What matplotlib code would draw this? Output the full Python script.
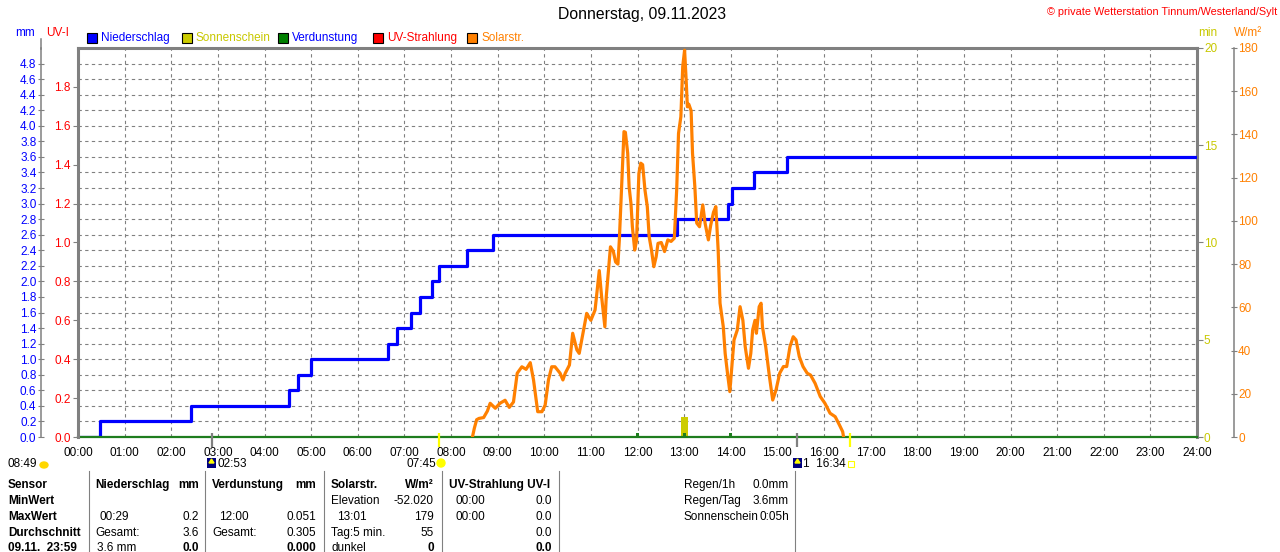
import matplotlib
matplotlib.use("Agg")
import matplotlib.pyplot as plt
from matplotlib.patches import Rectangle, Polygon, Ellipse
from matplotlib.lines import Line2D
import numpy as np

plt.rcParams['font.family'] = ['Liberation Sans', 'DejaVu Sans']

W, H = 1280, 552

# Niederschlag, cumulative mm (step changes, hours)
rain_t = [0.0, 0.47, 2.42, 4.53, 4.72, 5.0, 6.65, 6.84, 7.14, 7.34, 7.59, 7.74,
          8.34, 8.9, 12.85, 13.95, 14.02, 14.5, 15.2, 24.0]
rain_mm = [0.0, 0.2, 0.4, 0.6, 0.8, 1.0, 1.2, 1.4, 1.6, 1.8, 2.0, 2.2,
           2.4, 2.6, 2.8, 3.0, 3.2, 3.4, 3.6, 3.6]

# Verdunstung per hour, mm
evap_h = [1, 2, 3, 4, 5, 11, 12, 13, 14]
evap_mm = [0.01, 0.01, 0.01, 0.01, 0.01, 0.01, 0.051, 0.045, 0.045]

# Sonnenschein, min
sun_t = [13.0]
sun_min = [1.05]

# Solarstrahlung W/m2
solar_t = [8.46, 8.5, 8.55, 8.6, 8.7, 8.78, 8.84, 8.95, 9.05, 9.16, 9.25, 9.34, 9.42,
           9.52, 9.61, 9.7, 9.77, 9.86, 9.95, 10.02, 10.09, 10.16, 10.23, 10.34, 10.4,
           10.45, 10.54, 10.61, 10.7, 10.75, 10.83, 10.91, 11.0, 11.09, 11.18, 11.23,
           11.3, 11.33, 11.42, 11.48, 11.53, 11.58, 11.61, 11.66, 11.71, 11.74, 11.79,
           11.82, 11.86, 11.89, 11.94, 11.98, 12.03, 12.07, 12.11, 12.16, 12.21, 12.25,
           12.3, 12.35, 12.4, 12.44, 12.51, 12.58, 12.65, 12.72, 12.79, 12.84, 12.88,
           12.93, 12.97, 13.01, 13.04, 13.07, 13.1, 13.15, 13.18, 13.23, 13.27, 13.33,
           13.4, 13.45, 13.52, 13.57, 13.63, 13.68, 13.73, 13.77, 13.84, 13.88, 13.93,
           13.98, 14.04, 14.07, 14.14, 14.2, 14.26, 14.31, 14.38, 14.43, 14.47, 14.52,
           14.55, 14.61, 14.65, 14.68, 14.75, 14.83, 14.9, 14.97, 15.05, 15.13, 15.2,
           15.27, 15.34, 15.4, 15.47, 15.55, 15.64, 15.71, 15.81, 15.92, 16.02, 16.13,
           16.24, 16.33, 16.4, 16.42]
solar_w = [0, 4, 8, 8.6, 9, 12, 15.6, 13.3, 15.6, 17, 13.7, 16.2, 29.5,
           32.5, 31.3, 34.4, 26.4, 11.7, 11.7, 14.8, 26.4, 32.5, 32.5, 29.5, 26.4,
           29.5, 33.3, 48, 40.3, 38.7, 48, 57.2, 54, 58.8, 77, 65,
           51, 65, 88, 86, 81, 80, 91, 115.8, 141.3, 141, 131.3,
           115.8, 108, 97.3, 86.5, 91, 122, 126.7, 126, 114.3, 106.6, 92.7,
           86.5, 78.8, 83.4, 89.6, 90, 85.8, 91.2, 90.5, 92, 114.3, 140.5,
           148.2, 171.4, 179, 166.7, 152.8, 154, 151, 131.3, 115.8, 99, 97.3,
           107.4, 98.9, 91.2, 98, 104, 106.6, 86.5, 61.9, 51, 38.7, 29.5,
           21, 37.2, 44.9, 49.5, 60.3, 54, 41.8, 31.8, 38.7, 49.5, 54,
           48, 60.3, 61.9, 51, 41.8, 27.9, 17.1, 21.7, 29.5, 32.6, 32.6,
           41.8, 46.4, 44.9, 37.2, 32.6, 29.5, 28.7, 24.8, 18.7, 15.6, 11,
           9.4, 5.6, 2.5, 0]

# sunrise / sunset and moon times (hours)
sunrise, sunset = 7.75, 16.567
moon_events = [2.883, 15.43]

hour_labels = [f"{h:02d}:00" for h in range(25)]

GRAY = '#808080'
BLUE = '#0000ff'
RED = '#ff0000'
YEL = '#c8c800'
ORANGE = '#ff8000'
GREEN = '#1e7d1e'
PT = 72 / 100  # points per pixel


def fx(x):
    return x / W


def fy(y):
    return 1 - y / H


fig = plt.figure(figsize=(W / 100, H / 100), dpi=100)
ax = fig.add_axes([fx(78), fy(437), (1197 - 78) / W, (437 - 48) / H])
mn = ax.twinx()
uv = ax.twinx()
wm = ax.twinx()
mn.set_zorder(1)
ax.set_zorder(2)
uv.set_zorder(3)
wm.set_zorder(4)
for a in (ax, mn, uv, wm):
    a.patch.set_visible(False)
    for s in a.spines.values():
        s.set_visible(False)

fs = 8.5

# main mm axis
ax.set_xlim(0, 24)
ax.set_ylim(0, 5.0)
ax.set_xticks(range(25))
ax.set_xticklabels(hour_labels)
ax.tick_params(axis='x', length=0, pad=7, labelsize=fs, colors='black')
ax.set_yticks(np.round(np.arange(0, 4.81, 0.2), 1))
ax.set_yticklabels([f"{v:.1f}" for v in np.arange(0, 4.81, 0.2)])
ax.spines['left'].set_visible(True)
ax.spines['left'].set_position(('outward', 37 * PT))
ax.spines['left'].set_color(GRAY)
ax.spines['left'].set_linewidth(1.1)
ax.tick_params(axis='y', direction='inout', length=4.5, width=0.8, color=GRAY,
               labelcolor=BLUE, labelsize=fs, pad=1)
for side in ('top', 'right'):
    ax.spines[side].set_visible(True)
    ax.spines[side].set_color(GRAY)
    ax.spines[side].set_linewidth(2.2)
# mm spine reaches a little above the plot frame
fig.add_artist(Line2D([fx(41), fx(41)], [fy(39), fy(49)], color=GRAY, lw=1.1,
                      transform=fig.transFigure))

# UV-I axis (left border)
uv.set_ylim(0, 2.0)
uv.yaxis.tick_left()
uv.spines['left'].set_visible(True)
uv.spines['left'].set_color(GRAY)
uv.spines['left'].set_linewidth(2.2)
uv.set_yticks(np.round(np.arange(0, 1.81, 0.2), 1))
uv.set_yticklabels([f"{v:.1f}" for v in np.arange(0, 1.81, 0.2)])
uv.tick_params(axis='y', direction='out', length=3.6, width=0.8, color=GRAY,
               labelcolor=RED, labelsize=fs, pad=1.5)

# min axis, lowest layer, carries the dashed grid (0.8 min = 0.2 mm)
mn.set_ylim(0, 20)
mn.set_yticks([0, 5, 10, 15, 20])
mn.set_yticks(np.arange(0.8, 19.3, 0.8), minor=True)
mn.tick_params(axis='y', which='major', direction='out', length=4, width=0.8, color=GRAY,
               labelcolor=YEL, labelsize=fs, pad=1)
mn.tick_params(axis='y', which='minor', length=0)
mn.xaxis.set_visible(True)
mn.tick_params(axis='x', length=0, labelbottom=False)
mn.grid(True, which='minor', axis='y', color=GRAY, ls=(0, (3, 3)), lw=0.8)
mn.grid(True, which='major', axis='x', color=GRAY, ls=(0, (3, 3)), lw=0.8)

# W/m2 axis
wm.set_ylim(0, 180)
wm.set_yticks(range(0, 181, 20))
wm.spines['right'].set_visible(True)
wm.spines['right'].set_position(('outward', 37 * PT))
wm.spines['right'].set_color(GRAY)
wm.spines['right'].set_linewidth(1.1)
wm.tick_params(axis='y', direction='inout', length=5, width=0.8, color=GRAY,
               labelcolor=ORANGE, labelsize=fs, pad=0.5)

# data
mn.bar(sun_t, sun_min, width=0.15, color='#cccc00', zorder=3)
ax.step(rain_t, rain_mm, where='post', color=BLUE, lw=2.3, zorder=3)
ax.plot([0, 24], [0, 0], color=GREEN, lw=1.6, clip_on=False, zorder=4)
ax.bar(evap_h, evap_mm, width=0.06, color=GREEN, zorder=4)
wm.plot(solar_t, solar_w, color=ORANGE, lw=2.3, solid_joinstyle='round', zorder=5)

# sun / moon markers on the time axis
xt = ax.get_xaxis_transform()
y_lo, y_hi = -(447 - 437) / 389, (437 - 433) / 389
ax.vlines([sunrise, sunset], y_lo, y_hi, transform=xt, colors='#ffff00', lw=1.6,
          clip_on=False, zorder=6)
ax.vlines(moon_events, y_lo, y_hi, transform=xt, colors=GRAY, lw=1.6,
          clip_on=False, zorder=6)

# headings
fig.text(fx(642), fy(15), "Donnerstag, 09.11.2023", ha='center', va='center',
         fontsize=11.3, color='black')
fig.text(fx(1277), fy(12), "© private Wetterstation Tinnum/Westerland/Sylt",
         ha='right', va='center', fontsize=7.8, color=RED)
fig.text(fx(15), fy(33), "mm", ha='left', va='center', fontsize=fs, color=BLUE)
fig.text(fx(46), fy(33), "UV-I", ha='left', va='center', fontsize=fs, color=RED)
fig.text(fx(1198), fy(33), "min", ha='left', va='center', fontsize=fs, color=YEL)
fig.text(fx(1234), fy(33), "W/m²", ha='left', va='center', fontsize=fs, color=ORANGE)

legend_items = [("Niederschlag", BLUE, BLUE, 87), ("Sonnenschein", '#cccc00', YEL, 182),
                ("Verdunstung", '#008000', BLUE, 278), ("UV-Strahlung", RED, RED, 373),
                ("Solarstr.", ORANGE, ORANGE, 467)]
for name, box, tcol, x0 in legend_items:
    fig.add_artist(Rectangle((fx(x0), fy(43)), 10 / W, 10 / H, facecolor=box,
                             edgecolor='black', lw=0.8, transform=fig.transFigure))
    fig.text(fx(x0 + 14), fy(38), name, ha='left', va='center', fontsize=fs, color=tcol)

# row below the time axis
fig.text(fx(8), fy(464), "08:49", ha='left', va='center', fontsize=fs)
fig.add_artist(Ellipse((fx(44), fy(465)), 8 / W, 6 / H, color='#ffd700',
                       transform=fig.transFigure))
fig.text(fx(436), fy(464), "07:45", ha='right', va='center', fontsize=fs)
fig.add_artist(Ellipse((fx(441), fy(463)), 8 / W, 8 / H, color='#ffff00',
                       transform=fig.transFigure))
for x0 in (207, 793):
    fig.add_artist(Rectangle((fx(x0), fy(468)), 9 / W, 10 / H, facecolor='#000080',
                             edgecolor='none', transform=fig.transFigure))
    fig.add_artist(Polygon([(fx(x0 + 2), fy(463)), (fx(x0 + 4.5), fy(459)), (fx(x0 + 7), fy(463))],
                           closed=True, color='#ffff00', transform=fig.transFigure))
fig.text(fx(217), fy(464), "02:53", ha='left', va='center', fontsize=fs)
fig.text(fx(803), fy(464), "1  16:34", ha='left', va='center', fontsize=fs)
fig.add_artist(Rectangle((fx(848), fy(467)), 6 / W, 6 / H, facecolor='none',
                         edgecolor='#ffff00', lw=0.8, transform=fig.transFigure))

# table
rows_y = [485, 501, 517, 533, 548]
row_heads = ["Sensor", "MinWert", "MaxWert", "Durchschnitt", "09.11.  23:59"]
for y, t in zip(rows_y, row_heads):
    fig.text(fx(8), fy(y), t, ha='left', va='center', fontsize=fs, fontweight='bold')

# (text, x, row, align, bold)
cells = [
    ("Niederschlag", 95, 0, 'left', True), ("mm", 199, 0, 'right', True),
    ("Verdunstung", 212, 0, 'left', True), ("mm", 316, 0, 'right', True),
    ("Solarstr.", 331, 0, 'left', True), ("W/m²", 434, 0, 'right', True),
    ("UV-Strahlung UV-I", 449, 0, 'left', True),
    ("Elevation", 331, 1, 'left', False), ("-52.020", 434, 1, 'right', False),
    ("00:00", 455, 1, 'left', False), ("0.0", 552, 1, 'right', False),
    ("00:29", 100, 2, 'left', False), ("0.2", 199, 2, 'right', False),
    ("12:00", 219, 2, 'left', False), ("0.051", 316, 2, 'right', False),
    ("13:01", 337, 2, 'left', False), ("179", 434, 2, 'right', False),
    ("00:00", 455, 2, 'left', False), ("0.0", 552, 2, 'right', False),
    ("Gesamt:", 95, 3, 'left', False), ("3.6", 199, 3, 'right', False),
    ("Gesamt:", 212, 3, 'left', False), ("0.305", 316, 3, 'right', False),
    ("Tag:5 min.", 331, 3, 'left', False), ("55", 434, 3, 'right', False),
    ("0.0", 552, 3, 'right', False),
    ("3.6 mm", 97, 4, 'left', False), ("0.0", 199, 4, 'right', True),
    ("0.000", 316, 4, 'right', True), ("dunkel", 331, 4, 'left', False),
    ("0", 434, 4, 'right', True), ("0.0", 552, 4, 'right', True),
    ("Regen/1h", 684, 0, 'left', False), ("0.0mm", 789, 0, 'right', False),
    ("Regen/Tag", 684, 1, 'left', False), ("3.6mm", 789, 1, 'right', False),
    ("Sonnenschein", 684, 2, 'left', False), ("0:05h", 789, 2, 'right', False),
]
for t, x, r, al, b in cells:
    fig.text(fx(x), fy(rows_y[r]), t, ha=al, va='center', fontsize=fs,
             fontweight='bold' if b else 'normal')

for x0 in (89, 205, 324, 442, 559, 795):
    fig.add_artist(Line2D([fx(x0), fx(x0)], [fy(471), 0], color=GRAY, lw=0.8,
                          transform=fig.transFigure))

fig.savefig("out.png", dpi=100)
